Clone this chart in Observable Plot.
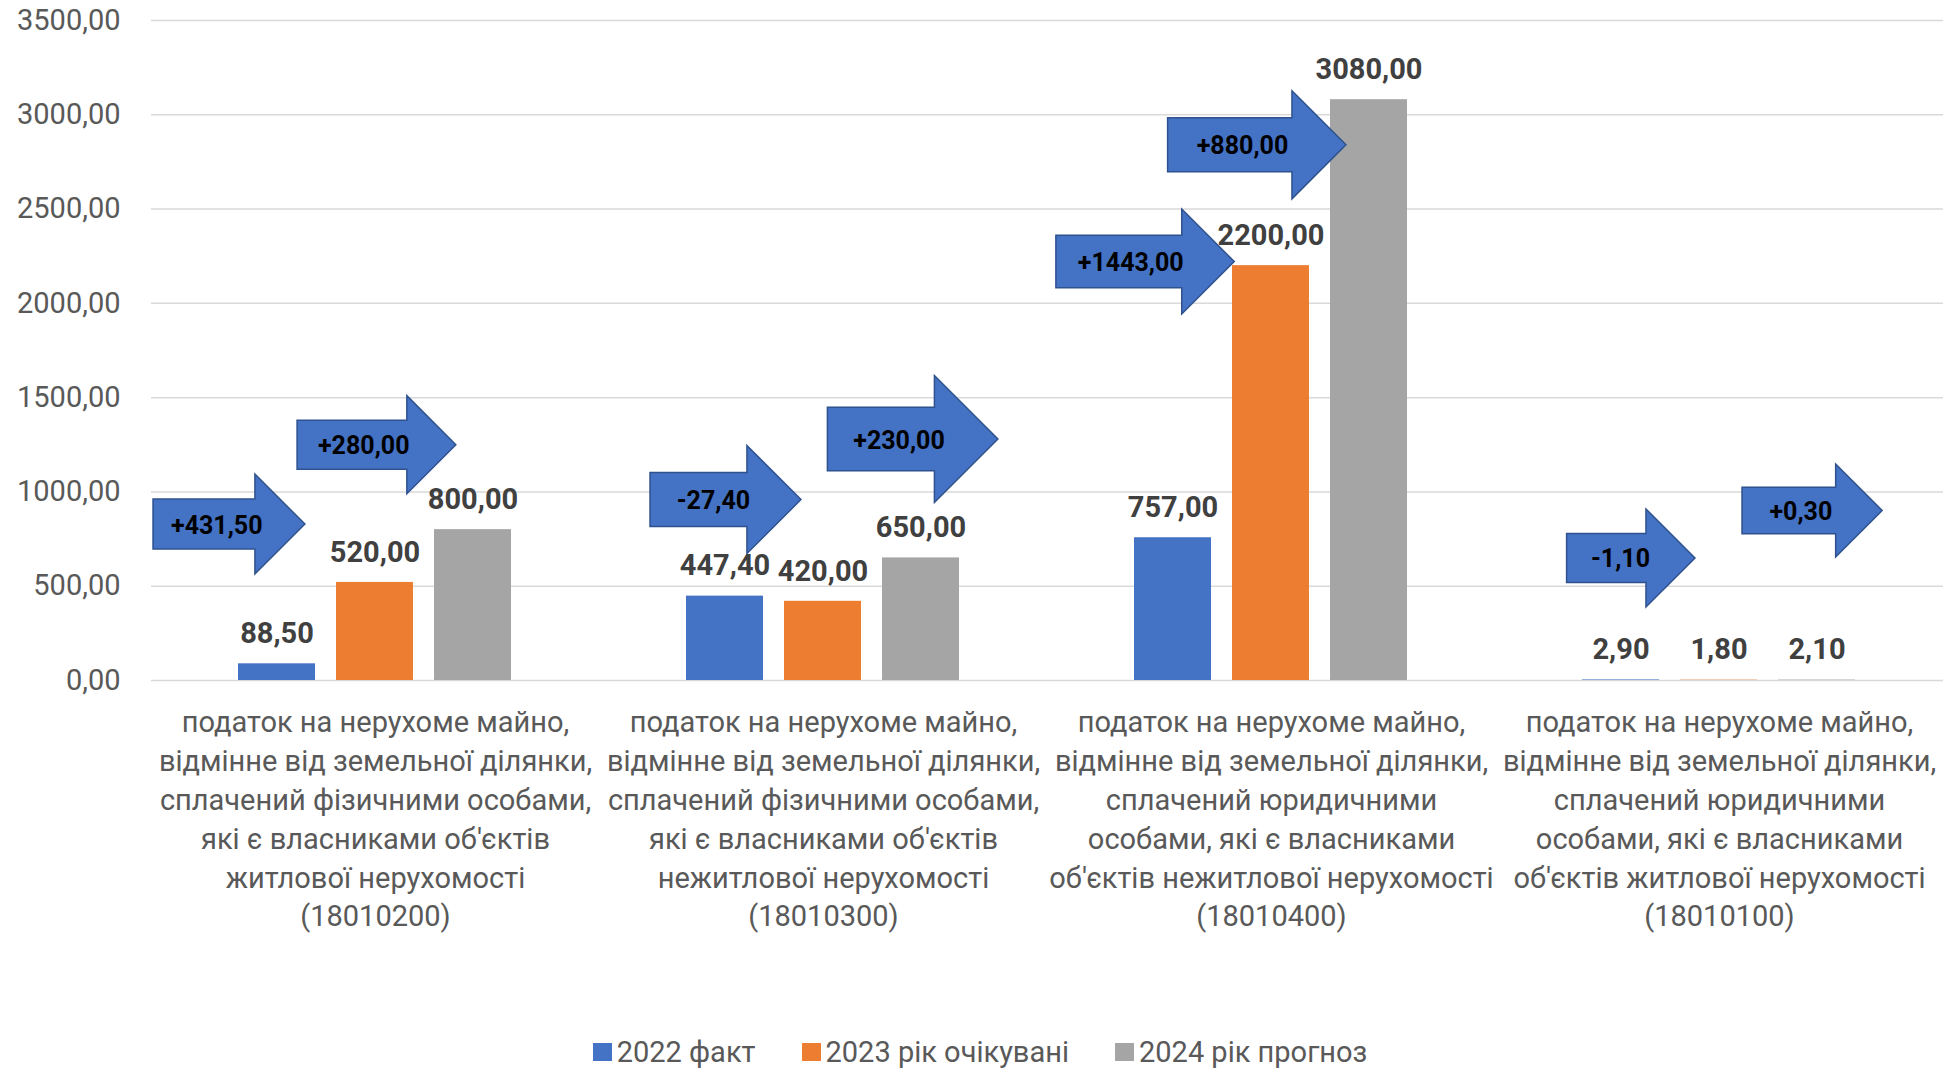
<!DOCTYPE html>
<html><head><meta charset="utf-8">
<script src="https://cdn.jsdelivr.net/npm/d3@7"></script>
<script src="https://cdn.jsdelivr.net/npm/@observablehq/plot@0.6"></script>
<style>
html,body{margin:0;padding:0;background:#fff;}
#chart{width:1944px;height:1070px;position:relative;overflow:hidden;font-family:Roboto,"Open Sans",sans-serif;}
.legend{display:flex;justify-content:center;align-items:center;gap:46px;height:36px;font-size:29px;color:#595959;font-family:Roboto,sans-serif;padding-left:16px;}
.legend .it{display:flex;align-items:center;}
.legend .sw{display:inline-block;width:19px;height:18px;margin-right:5px;}
</style></head><body><div id="chart"></div>
<script>
// ---- data ----
const categories = [
  "податок на нерухоме майно,\nвідмінне від земельної ділянки,\nсплачений фізичними особами,\nякі є власниками об'єктів\nжитлової нерухомості\n(18010200)",
  "податок на нерухоме майно,\nвідмінне від земельної ділянки,\nсплачений фізичними особами,\nякі є власниками об'єктів\nнежитлової нерухомості\n(18010300)",
  "податок на нерухоме майно,\nвідмінне від земельної ділянки,\nсплачений юридичними\nособами, які є власниками\nоб'єктів нежитлової нерухомості\n(18010400)",
  "податок на нерухоме майно,\nвідмінне від земельної ділянки,\nсплачений юридичними\nособами, які є власниками\nоб'єктів житлової нерухомості\n(18010100)"
];
const series = ["2022 факт", "2023 рік очікувані", "2024 рік прогноз"];
const values2022 = [88.5, 447.4, 757.0, 2.9];
const values2023 = [520.0, 420.0, 2200.0, 1.8];
const values2024 = [800.0, 650.0, 3080.0, 2.1];
const yTicks = [0, 500, 1000, 1500, 2000, 2500, 3000, 3500];
const seriesColors = ["#4472C4", "#ED7D31", "#A5A5A5"];

// arrow annotations (change between years)
const arrowLabels = ["+431,50", "+280,00", "-27,40", "+230,00", "+1443,00", "+880,00", "-1,10", "+0,30"];
const arrowGroup = [0, 0, 1, 1, 2, 2, 3, 3];
const arrowValue = [827, 1248, 957, 1278, 2219, 2838, 647, 899];   // vertical anchor, data units
const arrowFrom = [-1.26, 0.21, -0.76, 1.05, -1.19, -0.05, -0.55, 1.24]; // in series-band units
const arrowTo = [0.29, 1.83, 0.78, 2.79, 0.63, 1.77, 0.76, 2.67];
const arrowScale = [1.0, 0.98, 1.08, 1.27, 1.05, 1.08, 0.98, 0.93];

// ---- build tables ----
const valuesBySeries = [values2022, values2023, values2024];
const rows = [];
categories.forEach((c, i) => series.forEach((s, j) => rows.push({category: c, series: s, value: valuesBySeries[j][i]})));
const arrows = arrowLabels.map((label, i) => ({label, category: categories[arrowGroup[i]], value: arrowValue[i], from: arrowFrom[i], to: arrowTo[i], k: arrowScale[i]}));
const fmt = v => v.toFixed(2).replace(".", ",");

const FONT = "Roboto, 'Open Sans', sans-serif";

const arrowMark = Plot.dot(arrows, {
  fx: "category",
  y: "value",
  render(index, scales, values, dimensions, context) {
    const x = scales.x, y = scales.y;
    const bw = typeof x.bandwidth === "function" ? x.bandwidth() : x.bandwidth;
    const step = x(series[1]) - x(series[0]);
    const c0 = x(series[0]) + bw / 2;
    const g = d3.create("svg:g");
    for (const i of index) {
      const a = arrows[i];
      const x0 = c0 + a.from * step, x1 = c0 + a.to * step, yc = y(a.value);
      const H = 100 * a.k, L = H / 2;
      const pts = [[x0, yc - H / 4], [x1 - L, yc - H / 4], [x1 - L, yc - H / 2], [x1, yc], [x1 - L, yc + H / 2], [x1 - L, yc + H / 4], [x0, yc + H / 4]];
      g.append("path").attr("d", "M" + pts.join("L") + "Z")
        .attr("fill", "#4472C4").attr("stroke", "#2F528F").attr("stroke-width", 1.5);
      g.append("text").attr("x", x0 + 0.42 * (x1 - x0)).attr("y", yc + 1)
        .attr("text-anchor", "middle").attr("dominant-baseline", "central")
        .attr("font-weight", "bold").attr("font-size", 25).attr("fill", "#000")
        .attr("font-family", FONT).text(a.label);
    }
    return g.node();
  }
});

const plot = Plot.plot({
  width: 1944,
  height: 1034,
  marginLeft: 150,
  marginRight: 0,
  marginTop: 20,
  marginBottom: 354,
  style: {fontFamily: FONT, background: "white", overflow: "visible"},
  fx: {domain: categories, padding: 0, axis: null},
  x: {domain: series, paddingInner: 0.212, paddingOuter: 0.871, axis: null},
  y: {domain: [0, 3500], axis: null},
  color: {domain: series, range: seriesColors},
  marks: [
    Plot.gridY(yTicks, {stroke: "#D9D9D9", strokeOpacity: 1, strokeWidth: 1.5}),
    Plot.axisY(yTicks, {tickSize: 0, tickPadding: 31, tickFormat: fmt, fontSize: 29, fill: "#595959", label: null}),
    Plot.barY(rows, {fx: "category", x: "series", y: "value", fill: "series"}),
    arrowMark,
    Plot.text(rows, {fx: "category", x: "series", y: "value", text: d => fmt(d.value), dy: -30, fontSize: 29, fontWeight: "bold", fill: "#404040"}),
    Plot.text(categories, {fx: d => d, text: d => d, frameAnchor: "bottom", lineAnchor: "top", dy: 24, fontSize: 29, lineHeight: 1.34, fill: "#595959"})
  ]
});

const root = document.getElementById("chart");
root.appendChild(plot);
const legend = document.createElement("div");
legend.className = "legend";
series.forEach((s, i) => {
  const it = document.createElement("div");
  it.className = "it";
  const sw = document.createElement("span");
  sw.className = "sw";
  sw.style.background = seriesColors[i];
  it.appendChild(sw);
  it.appendChild(document.createTextNode(s));
  legend.appendChild(it);
});
root.appendChild(legend);
</script>
</body></html>
